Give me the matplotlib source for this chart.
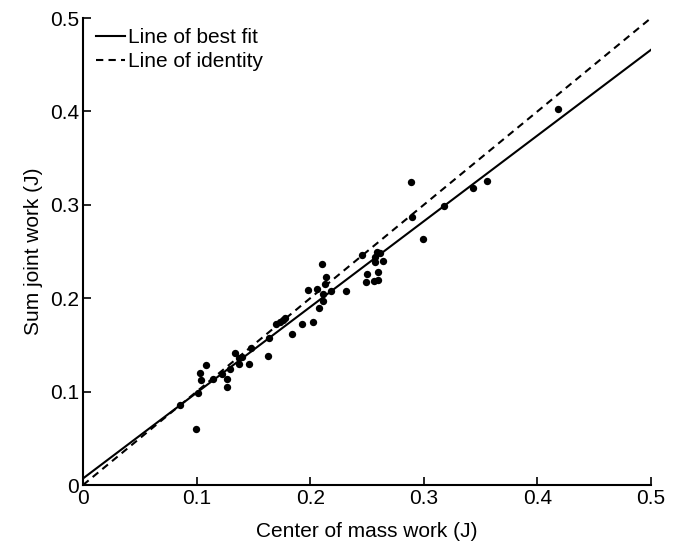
import numpy as np
import matplotlib
matplotlib.use("Agg")
import matplotlib.pyplot as plt

plt.rcParams['font.family'] = ['Liberation Sans', 'DejaVu Sans']

# === Data ===
com_work = [0.085, 0.0995, 0.1015, 0.103, 0.1036, 0.108, 0.114, 0.122, 0.1265, 0.127,
            0.129, 0.134, 0.137, 0.137, 0.140, 0.146, 0.148, 0.163, 0.164, 0.170,
            0.173, 0.176, 0.178, 0.184, 0.1925, 0.198, 0.2027, 0.206, 0.208, 0.210,
            0.211, 0.211, 0.213, 0.214, 0.218, 0.2315, 0.2453, 0.249, 0.2497, 0.256,
            0.257, 0.257, 0.2585, 0.260, 0.260, 0.2614, 0.264, 0.2885, 0.290, 0.2996,
            0.318, 0.343, 0.356, 0.418]
joint_work = [0.0853, 0.060, 0.098, 0.120, 0.1124, 0.128, 0.114, 0.119, 0.1046, 0.113,
              0.124, 0.141, 0.1357, 0.130, 0.137, 0.130, 0.147, 0.138, 0.157, 0.172,
              0.174, 0.177, 0.179, 0.162, 0.172, 0.209, 0.175, 0.2095, 0.190, 0.237,
              0.197, 0.2045, 0.215, 0.223, 0.208, 0.208, 0.246, 0.217, 0.226, 0.218,
              0.2445, 0.239, 0.250, 0.228, 0.2195, 0.248, 0.240, 0.324, 0.287, 0.263,
              0.299, 0.318, 0.326, 0.403]

fit_intercept = 0.007
fit_slope = 0.918
ticks = [0, 0.1, 0.2, 0.3, 0.4, 0.5]
tick_labels = ["0", "0.1", "0.2", "0.3", "0.4", "0.5"]

# === Figure ===
fig = plt.figure(figsize=(6.77, 5.46), dpi=100)
ax = fig.add_axes([0.1226, 0.1117, 0.8390, 0.8553])

xs = np.array([0, 0.5])
ax.plot(xs, fit_intercept + fit_slope * xs, color="black", lw=1.5, label="Line of best fit")
ax.plot(xs, xs, color="black", lw=1.5, linestyle=(0, (3.5, 2.5)), label="Line of identity")
ax.scatter(com_work, joint_work, s=28, color="black", zorder=3, linewidths=0)

ax.set_xlim(0, 0.5)
ax.set_ylim(0, 0.5)
ax.set_xticks(ticks)
ax.set_xticklabels(tick_labels)
ax.set_yticks(ticks)
ax.set_yticklabels(tick_labels)
ax.tick_params(direction="in", length=6, width=1.2, labelsize=15, pad=3)

for side in ["top", "right"]:
    ax.spines[side].set_visible(False)
for side in ["left", "bottom"]:
    ax.spines[side].set_linewidth(1.5)

ax.set_xlabel("Center of mass work (J)", fontsize=15, labelpad=10)
ax.set_ylabel("Sum joint work (J)", fontsize=15, labelpad=5)

ax.legend(loc="upper left", frameon=False, fontsize=15, handlelength=1.4,
          handletextpad=0.15, borderaxespad=0.2, labelspacing=0.25,
          bbox_to_anchor=(0.0, 1.005))

fig.savefig("out.png", dpi=100)
